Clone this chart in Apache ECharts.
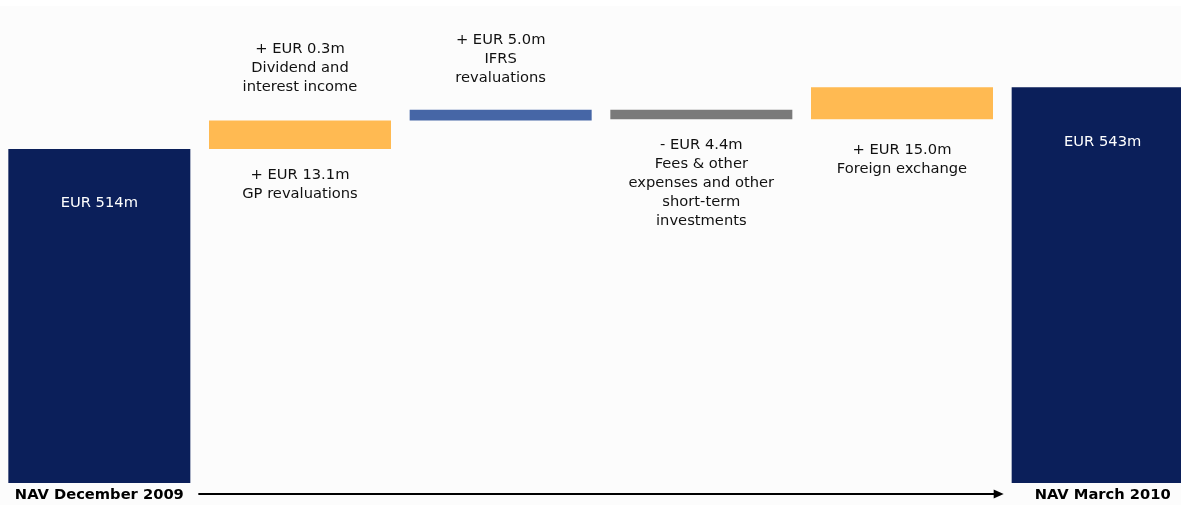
<!DOCTYPE html>
<html>
<head>
<meta charset="utf-8">
<script src="https://cdn.jsdelivr.net/npm/echarts@6/dist/echarts.min.js"></script>
<style>
  html, body { margin: 0; padding: 0; background: #fff; }
  #main { width: 1181px; height: 505px; }
</style>
</head>
<body>
<div id="main"></div>
<script>
// categories on the x axis (only the two NAV columns carry a label)
const categories = ['NAV December 2009', '', '', '', '', 'NAV March 2010']

// values in EUR m
const navValues = [514, '-', '-', '-', '-', 543]
const gpValues = ['-', 13.1, '-', '-', '-', '-']
const dividendValues = ['-', 0.3, '-', '-', '-', '-']
const ifrsValues = ['-', '-', 5.0, '-', '-', '-']
const feesValues = ['-', '-', '-', -4.4, '-', '-']
const fxValues = ['-', '-', '-', '-', 15.0, '-']

const navLabels = ['EUR 514m', '', '', '', '', 'EUR 543m']
const gpLabel = '+ EUR 13.1m\nGP revaluations'
const dividendLabel = '+ EUR 0.3m\nDividend and\ninterest income'
const ifrsLabel = '+ EUR 5.0m\nIFRS\nrevaluations'
const feesLabel = '- EUR 4.4m\nFees & other\nexpenses and other\nshort-term\ninvestments'
const fxLabel = '+ EUR 15.0m\nForeign exchange'

const FONT = 'DejaVu Sans'
const FS = 14.7

// running total -> invisible base under each change bar
const changeSeries = [gpValues, dividendValues, ifrsValues, feesValues, fxValues]
const baseValues = []
let running = navValues[0]
for (let i = 0; i < categories.length; i++) {
  if (navValues[i] !== '-') {
    baseValues.push('-')
    continue
  }
  let low = running
  let lowest = running
  changeSeries.forEach(s => {
    if (s[i] !== '-') {
      running += s[i]
      if (s[i] < 0) lowest = Math.min(lowest, running)
    }
  })
  baseValues.push(Math.min(low, lowest))
}

function absVals (arr) {
  return arr.map(v => (v === '-' ? '-' : Math.abs(v)))
}

function changeBar (name, data, color, text, position, distance) {
  return {
    name: name,
    type: 'bar',
    stack: 'w',
    data: absVals(data),
    itemStyle: { color: color },
    label: {
      show: true,
      position: position,
      distance: distance,
      formatter: text,
      color: '#111',
      fontFamily: FONT,
      fontSize: FS,
      lineHeight: 19,
      align: 'center'
    },
    silent: true
  }
}

const chart = echarts.init(document.getElementById('main'))

const option = {
  backgroundColor: '#fcfcfc',
  animation: false,
  grid: {
    left: -1,
    width: 1204,
    top: 0,
    bottom: 22,
    containLabel: false,
    outerBoundsMode: 'none'
  },
  xAxis: {
    type: 'category',
    data: categories,
    axisLine: { show: false },
    axisTick: { show: false },
    axisLabel: {
      interval: 0,
      margin: 5,
      color: '#000',
      fontFamily: FONT,
      fontWeight: 'bold',
      fontSize: FS
    }
  },
  yAxis: {
    type: 'value',
    min: 357,
    max: 584,
    show: false,
    splitLine: { show: false }
  },
  series: [
    {
      name: 'base',
      type: 'bar',
      stack: 'w',
      barWidth: 182,
      data: baseValues,
      itemStyle: { color: 'transparent' },
      silent: true
    },
    {
      name: 'NAV',
      type: 'bar',
      stack: 'w',
      data: navValues,
      itemStyle: { color: '#0b1f5a' },
      label: {
        show: true,
        position: 'insideTop',
        distance: 47,
        color: '#fff',
        fontFamily: FONT,
        fontSize: FS,
        formatter: p => navLabels[p.dataIndex]
      },
      silent: true
    },
    changeBar('GP revaluations', gpValues, '#ffba52', gpLabel, 'bottom', 17),
    changeBar('Dividend and interest income', dividendValues, '#ffba52', dividendLabel, 'top', 24),
    changeBar('IFRS revaluations', ifrsValues, '#4666a6', ifrsLabel, 'top', 22),
    changeBar('Fees', feesValues, '#7a7a7a', feesLabel, 'bottom', 17),
    changeBar('Foreign exchange', fxValues, '#ffba52', fxLabel, 'bottom', 22)
  ]
}

chart.setOption(option)

// arrow along the bottom between the two NAV columns
const x0 = chart.convertToPixel({ xAxisIndex: 0 }, 0) + 99
const x1 = chart.convertToPixel({ xAxisIndex: 0 }, categories.length - 1) - 99
const yb = chart.convertToPixel({ yAxisIndex: 0 }, 357) + 11
chart.setOption({
  graphic: [
    {
      type: 'rect',
      shape: { x: 0, y: 0, width: 1181, height: 6 },
      style: { fill: '#fff' },
      z: -1
    },
    {
      type: 'line',
      shape: { x1: x0, y1: yb, x2: x1 - 8, y2: yb },
      style: { stroke: '#000', lineWidth: 2 }
    },
    {
      type: 'polygon',
      shape: { points: [[x1 - 10, yb - 4.5], [x1, yb], [x1 - 10, yb + 4.5]] },
      style: { fill: '#000' }
    }
  ]
})
</script>
</body>
</html>
